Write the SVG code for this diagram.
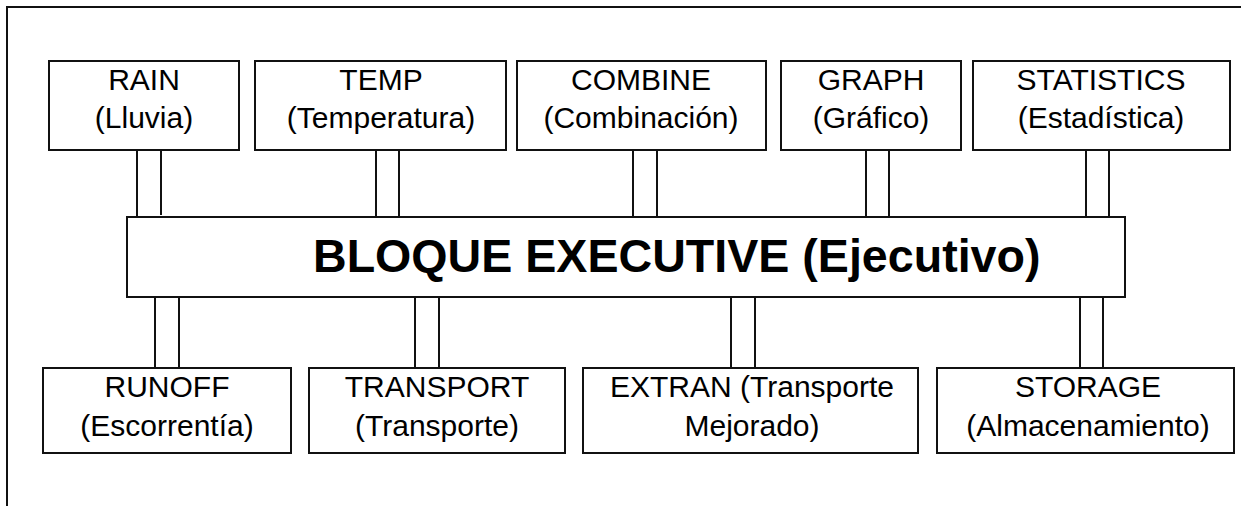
<svg xmlns="http://www.w3.org/2000/svg" width="1241" height="506" viewBox="0 0 1241 506">
<style>
.box{fill:#fff;stroke:#111;stroke-width:2}
.frame{fill:none;stroke:#111;stroke-width:2}
.conn line{stroke:#111;stroke-width:2}
.t{font-family:"Liberation Sans",Arial,sans-serif;font-size:30px;fill:#000;text-anchor:middle}
.big{font-family:"Liberation Sans",Arial,sans-serif;font-size:46.6px;font-weight:bold;fill:#000}
</style>
<rect width="1241" height="506" fill="#fff"/>
<rect class="frame" x="7" y="7" width="1260" height="520"/>
<g id="connectors" class="conn">
<line x1="137" y1="150" x2="137" y2="217"/><line x1="161" y1="150" x2="161" y2="215"/>
<line x1="376" y1="150" x2="376" y2="217"/><line x1="399" y1="150" x2="399" y2="217"/>
<line x1="633" y1="150" x2="633" y2="217"/><line x1="657" y1="150" x2="657" y2="217"/>
<line x1="866" y1="150" x2="866" y2="217"/><line x1="889" y1="150" x2="889" y2="217"/>
<line x1="1086" y1="150" x2="1086" y2="217"/><line x1="1109" y1="150" x2="1109" y2="217"/>
<line x1="155" y1="297" x2="155" y2="368"/><line x1="179" y1="297" x2="179" y2="368"/>
<line x1="415" y1="297" x2="415" y2="368"/><line x1="439" y1="297" x2="439" y2="368"/>
<line x1="731" y1="297" x2="731" y2="368"/><line x1="755" y1="297" x2="755" y2="368"/>
<line x1="1080" y1="297" x2="1080" y2="368"/><line x1="1103" y1="297" x2="1103" y2="368"/>
</g>
<g id="rain"><rect class="box" x="49" y="61" width="190" height="89"/><text class="t" x="144" y="90">RAIN</text><text class="t" x="144" y="128">(Lluvia)</text></g>
<g id="temp"><rect class="box" x="255" y="61" width="251" height="89"/><text class="t" x="381" y="90">TEMP</text><text class="t" x="381" y="128">(Temperatura)</text></g>
<g id="combine"><rect class="box" x="517" y="61" width="249" height="89"/><text class="t" x="641" y="90">COMBINE</text><text class="t" x="641" y="128">(Combinación)</text></g>
<g id="graph"><rect class="box" x="781" y="61" width="180" height="89"/><text class="t" x="871" y="90">GRAPH</text><text class="t" x="871" y="128">(Gráfico)</text></g>
<g id="statistics"><rect class="box" x="973" y="61" width="257" height="89"/><text class="t" x="1101" y="90">STATISTICS</text><text class="t" x="1101" y="128">(Estadística)</text></g>
<g id="executive"><rect class="box" x="127" y="217" width="998" height="80"/><text class="big" x="313" y="272">BLOQUE EXECUTIVE (Ejecutivo)</text></g>
<g id="runoff"><rect class="box" x="43" y="368" width="248" height="85"/><text class="t" x="167" y="397">RUNOFF</text><text class="t" x="167" y="436">(Escorrentía)</text></g>
<g id="transport"><rect class="box" x="309" y="368" width="256" height="85"/><text class="t" x="437" y="397">TRANSPORT</text><text class="t" x="437" y="436">(Transporte)</text></g>
<g id="extran"><rect class="box" x="583" y="368" width="335" height="85"/><text class="t" x="752" y="397">EXTRAN (Transporte</text><text class="t" x="752" y="436">Mejorado)</text></g>
<g id="storage"><rect class="box" x="937" y="368" width="297" height="85"/><text class="t" x="1088" y="397">STORAGE</text><text class="t" x="1088" y="436">(Almacenamiento)</text></g>
</svg>
